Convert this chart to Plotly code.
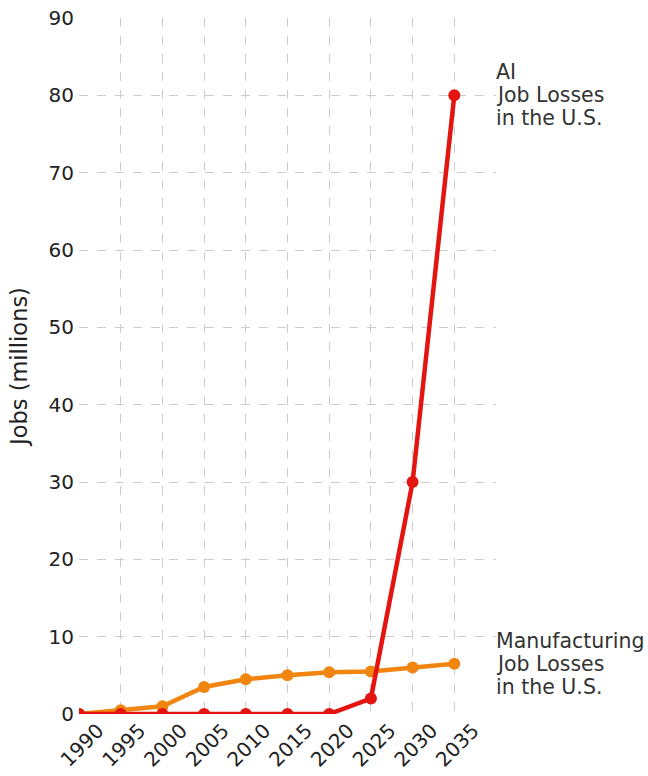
import plotly.graph_objects as go

years = [1990, 1995, 2000, 2005, 2010, 2015, 2020, 2025, 2030, 2035]
ai_losses = [0, 0, 0, 0, 0, 0, 0, 2, 30, 80]
manufacturing_losses = [0, 0.5, 1.0, 3.5, 4.5, 5.0, 5.4, 5.5, 6.0, 6.5]
y_ticks = [0, 10, 20, 30, 40, 50, 60, 70, 80, 90]
ai_label = ["AI", "Job Losses", "in the U.S."]
manufacturing_label = ["Manufacturing", "Job Losses", "in the U.S."]

RED = "#e41510"
ORANGE = "#f0860f"
FONT = "DejaVu Sans"
LINE_GAP = 23  # px between label lines

fig = go.Figure()
fig.add_trace(go.Scatter(
    x=years, y=manufacturing_losses, mode="lines+markers",
    line=dict(color=ORANGE, width=4.5), marker=dict(color=ORANGE, size=12),
    showlegend=False,
))
fig.add_trace(go.Scatter(
    x=years, y=ai_losses, mode="lines+markers",
    line=dict(color=RED, width=4.5), marker=dict(color=RED, size=12),
    showlegend=False,
))


def add_end_label(lines, value):
    # stack the label lines centred on the series' last value
    mid = (len(lines) - 1) / 2
    for i, line in enumerate(lines):
        fig.add_annotation(
            x=1, xref="paper", y=value, yref="y",
            text=line, showarrow=False,
            xanchor="left", yanchor="middle", align="left",
            xshift=-2, yshift=(mid - i) * LINE_GAP,
            font=dict(family=FONT, size=20.5, color="#333333"),
        )


add_end_label(ai_label, ai_losses[-1])
add_end_label(manufacturing_label, manufacturing_losses[-1])

fig.update_xaxes(
    range=[1990, 2040], tickvals=years, ticktext=[str(y) for y in years],
    tickangle=-45, ticklabelshift=19, showgrid=True, gridcolor="#cccccc",
    griddash="dash", gridwidth=1, zeroline=False, showline=False, ticks="",
    automargin=False,
    tickfont=dict(family=FONT, size=20, color="#222222"),
)
fig.update_yaxes(
    range=[0, 90], tickvals=y_ticks, showgrid=True, gridcolor="#cccccc",
    griddash="dash", gridwidth=1, zeroline=False, showline=False, ticks="",
    automargin=False, ticklabelstandoff=4,
    tickfont=dict(family=FONT, size=20, color="#222222"),
    title=dict(text="Jobs (millions)", font=dict(family=FONT, size=22.5, color="#222222"),
               standoff=14),
)

fig.update_layout(
    width=648, height=776,
    margin=dict(l=79, r=152, t=18, b=62),
    plot_bgcolor="white", paper_bgcolor="white",
    font=dict(family=FONT),
)

fig.write_html("out.html")
